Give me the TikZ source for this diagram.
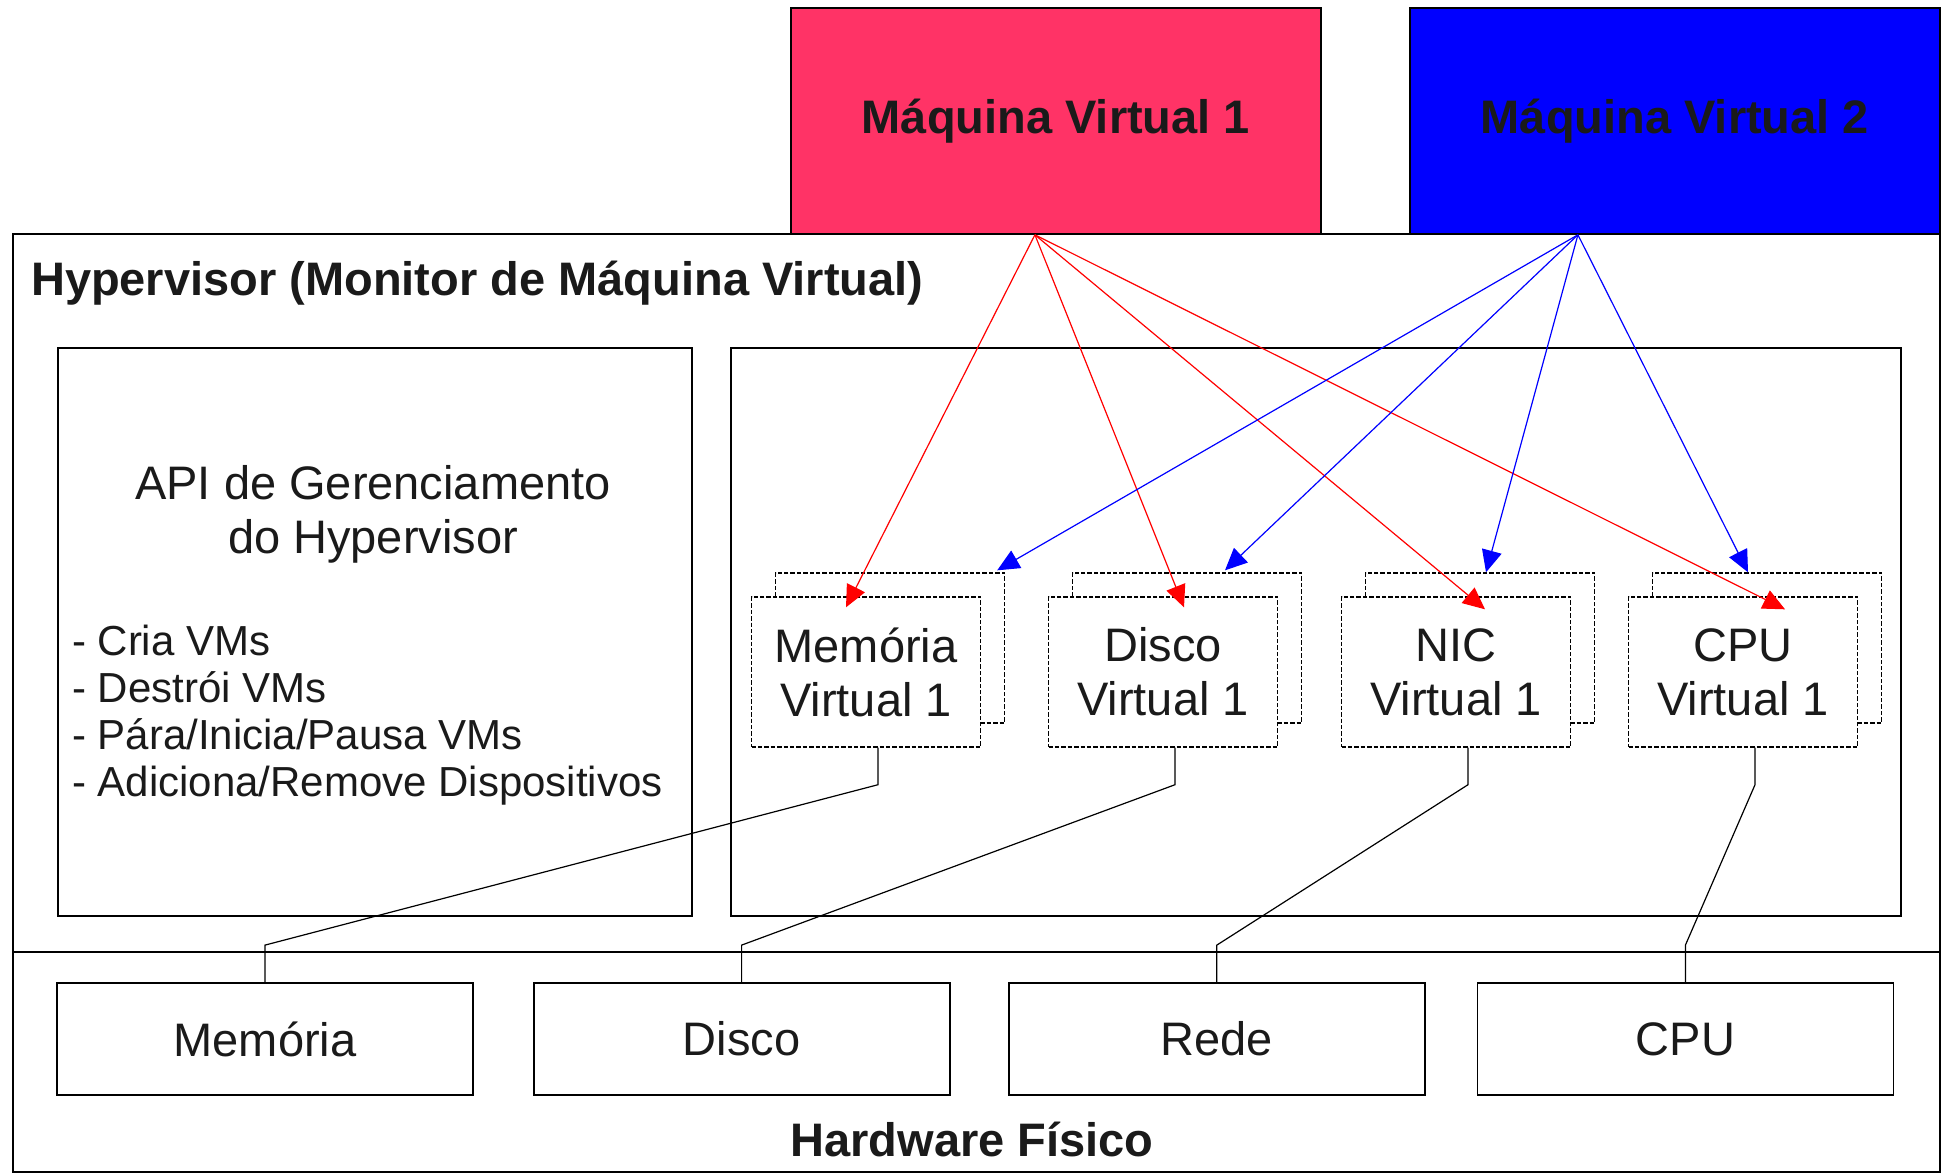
\documentclass[tikz,border=0pt]{standalone}
\usepackage{fontspec}
\setmainfont{Liberation Sans}
\usetikzlibrary{positioning,calc,arrows.meta}

\definecolor{vmred}{RGB}{255,51,102}
\definecolor{vmblue}{RGB}{0,0,255}
\definecolor{ink}{RGB}{26,26,26}

\begin{document}
\begin{tikzpicture}[x=0.5pt,y=-0.5pt,
	box/.style={draw, line width=0.9pt, inner sep=0pt, text=ink},
	vmbox/.style={box, anchor=north west, minimum width=265pt, minimum height=113pt, font=\fontsize{23.5}{28}\selectfont\bfseries},
	vdev/.style={draw, dash pattern=on 2.2pt off 1pt, line width=0.7pt, fill=white, minimum width=114.5pt, minimum height=75pt, inner sep=0pt, align=center, text=ink, font=\fontsize{23.5}{27}\selectfont},
	hwbox/.style={box, minimum width=208pt, minimum height=56pt, font=\fontsize{23.5}{28}\selectfont},
	vmlink/.style={-{Triangle[length=11pt,width=10pt]}, line width=0.6pt},
	hwlink/.style={line width=0.6pt}]

\useasboundingbox[fill=white] (0,0) rectangle (1946,1173);

%--figura relativa al hypervisor e all'hardware
\node [box, anchor=north west, minimum width=963.5pt, minimum height=359pt] (hyp) at (12,233) {};
\node [box, anchor=north west, minimum width=963.5pt, minimum height=110pt] (hw) at (12,951) {};
\node [anchor=west, text=ink, font=\fontsize{23.5}{28}\selectfont\bfseries] (hyptitle) at ($(hyp.north west)+(12,50)$) {Hypervisor (Monitor de Máquina Virtual)};
\node [text=ink, font=\fontsize{23.5}{28}\selectfont\bfseries] (hwtitle) at (972,1139) {Hardware Físico};

%--figura relativa alle macchine virtuali
\node [vmbox, fill=vmred] (vm1) at (790,7) {Máquina Virtual 1};
\node [vmbox, fill=vmblue] (vm2) at (1409,7) {Máquina Virtual 2};

%--figura relativa alla API
\node [box, anchor=north west, minimum width=317pt, minimum height=284pt] (api) at (57,347) {};
\node [align=center, text=ink, font=\fontsize{23.5}{27}\selectfont] (apititle) at (373,514) {API de Gerenciamento\\do Hypervisor};
\node [align=left, anchor=west, text=ink, font=\fontsize{21}{23.5}\selectfont] (apilist) at (65,715)
	{- Cria VMs\\
	 - Destrói VMs\\
	 - Pára/Inicia/Pausa VMs\\
	 - Adiciona/Remove Dispositivos};

%--figura relativa ai dispositivi virtuali
\node [box, anchor=north west, minimum width=585pt, minimum height=284pt] (devs) at (730,347) {};
\node [vdev] (memv) at (866,672) {};
\node [vdev] (discov) at (1163,672) {};
\node [vdev] (nicv) at (1456,672) {};
\node [vdev] (cpuv) at (1743,672) {};
\node [vdev] (memvb) at ($(memv)+(24,-24)$) {};
\node [vdev] (discovb) at ($(discov)+(24,-24)$) {};
\node [vdev] (nicvb) at ($(nicv)+(24,-24)$) {};
\node [vdev] (cpuvb) at ($(cpuv)+(24,-24)$) {};
\node [vdev] at (memv) {Memória\\Virtual 1};
\node [vdev] at (discov) {Disco\\Virtual 1};
\node [vdev] at (nicv) {NIC\\Virtual 1};
\node [vdev] at (cpuv) {CPU\\Virtual 1};

%--figura relativa ai dispositivi fisici
\node [hwbox] (memhw) at (265,1039) {Memória};
\node [hwbox, right=29.4pt of memhw] (discohw) {Disco};
\node [hwbox, right=28.7pt of discohw] (redehw) {Rede};
\node [hwbox, right=25.4pt of redehw] (cpuhw) {CPU};

\draw[hwlink] ($(memv.south)+(12,0)$) -- ++(0,37) -- ($(memhw.north)+(0,-37)$) -- (memhw.north);
\draw[hwlink] ($(discov.south)+(12,0)$) -- ++(0,37) -- ($(discohw.north)+(0,-37)$) -- (discohw.north);
\draw[hwlink] ($(nicv.south)+(12,0)$) -- ++(0,37) -- ($(redehw.north)+(0,-37)$) -- (redehw.north);
\draw[hwlink] ($(cpuv.south)+(12,0)$) -- ++(0,37) -- ($(cpuhw.north)+(0,-37)$) -- (cpuhw.north);

%--frecce dalle macchine virtuali
\coordinate (vm1out) at ($(vm1.south)+(-21,0)$);
\coordinate (vm2out) at ($(vm2.south)+(-97,0)$);

\draw[vmlink, red] (vm1out) -- ($(memv.north)+(-20,11)$);
\draw[vmlink, red] (vm1out) -- ($(discov.north)+(21,11)$);
\draw[vmlink, red] (vm1out) -- ($(nicv.north)+(29,13)$);
\draw[vmlink, red] (vm1out) -- ($(cpuv.north)+(42,13)$);

\draw[vmlink, vmblue] (vm2out) -- ($(memvb.north east)+(-8,-2)$);
\draw[vmlink, vmblue] (vm2out) -- ($(discovb.north)+(38,-2)$);
\draw[vmlink, vmblue] (vm2out) -- ($(nicvb.north)+(6,0)$);
\draw[vmlink, vmblue] (vm2out) -- ($(cpuvb.north)+(-19,0)$);

\end{tikzpicture}
\end{document}
